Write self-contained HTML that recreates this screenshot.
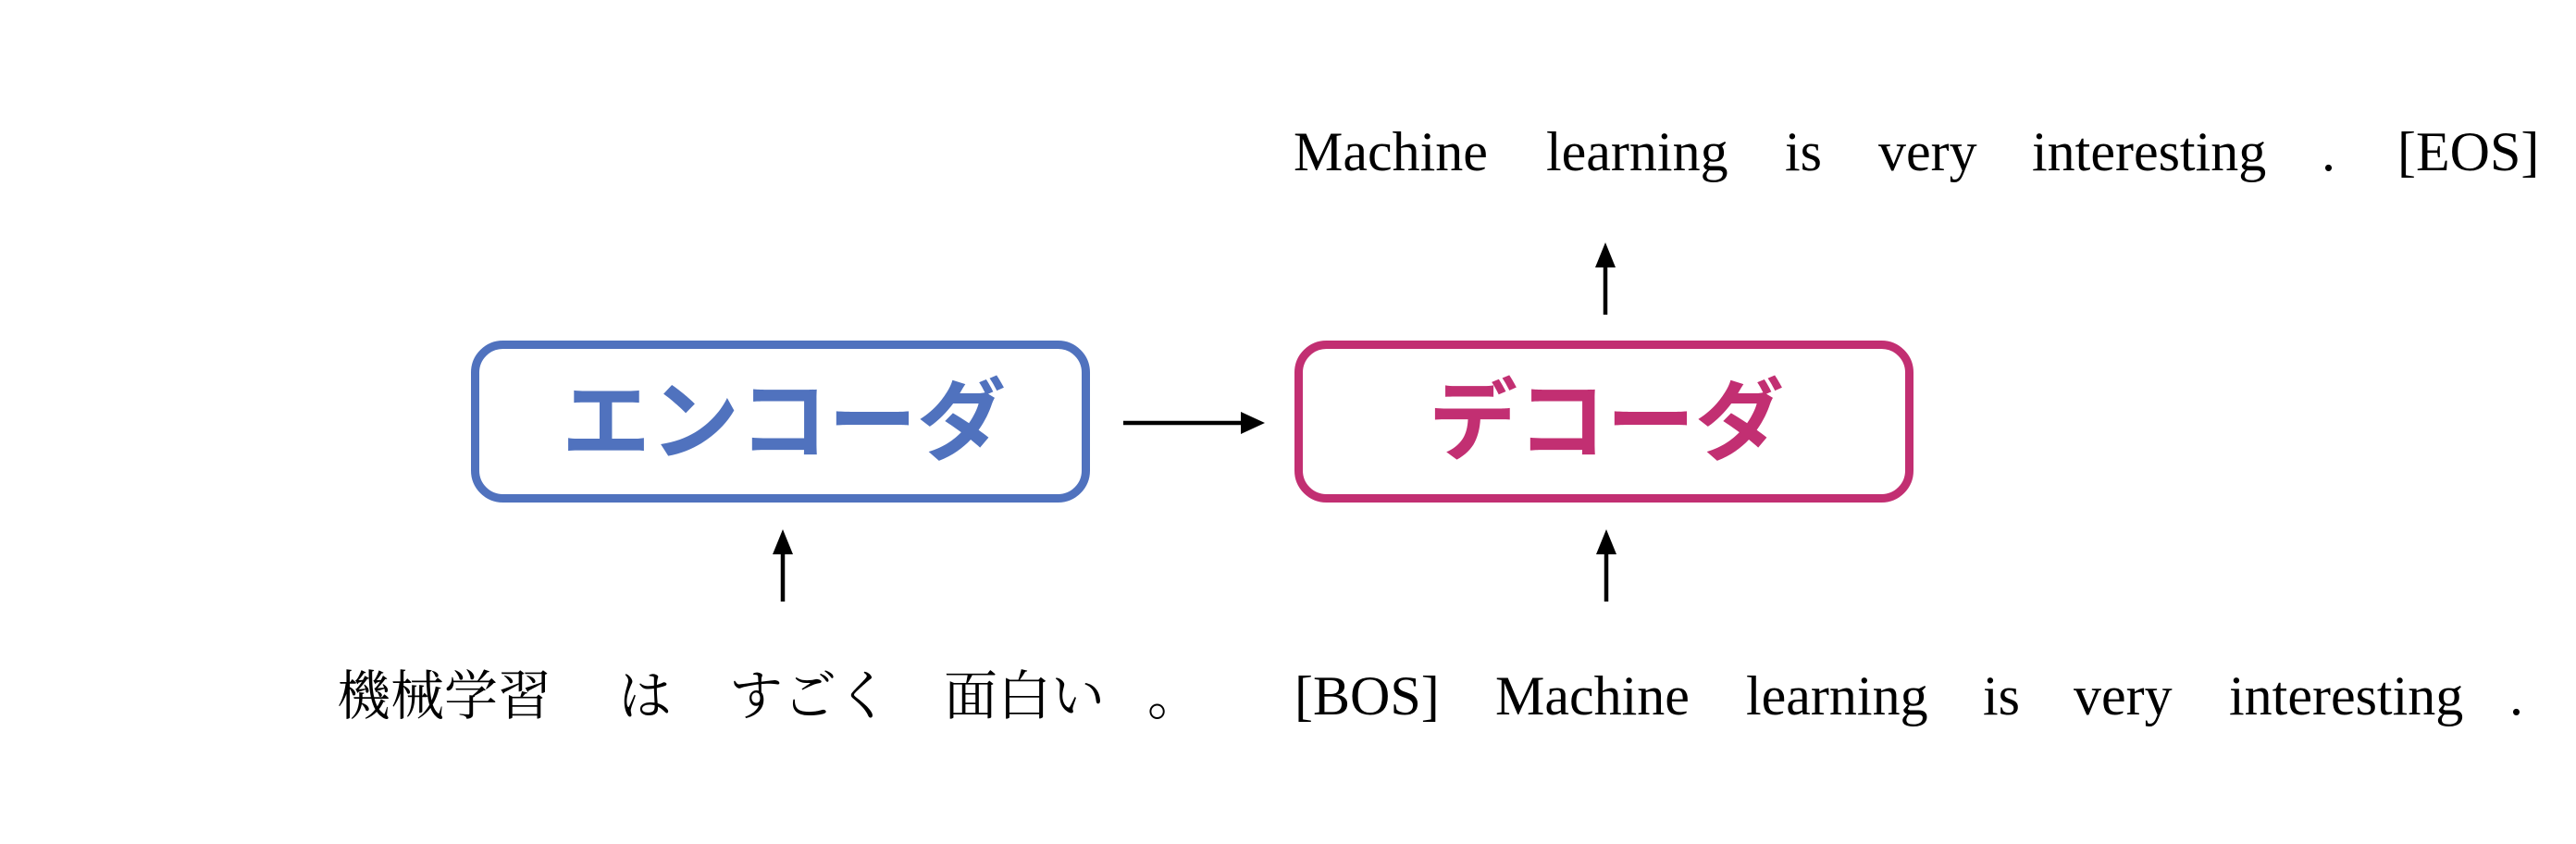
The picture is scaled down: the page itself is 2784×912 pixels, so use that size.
<!DOCTYPE html>
<html><head><meta charset="utf-8"><style>
html,body{margin:0;padding:0;background:#fff;}
svg{display:block;}
.s{font-family:"Liberation Serif","Noto Serif CJK SC",serif;font-size:60px;fill:#000;}
.j{font-family:"Liberation Serif","Noto Serif CJK SC",serif;font-size:58px;fill:#000;}
.k{font-family:"Noto Sans CJK JP",sans-serif;font-weight:bold;font-size:96px;}
</style></head><body>
<svg width="2784" height="912" viewBox="0 0 2784 912" xmlns="http://www.w3.org/2000/svg">
<rect x="513.5" y="372.5" width="660" height="166" rx="30" fill="none" stroke="#5072BE" stroke-width="9"/>
<rect x="1403.5" y="372.5" width="660" height="166" rx="30" fill="none" stroke="#C22F72" stroke-width="9"/>
<text class="k" x="847" y="489" text-anchor="middle" fill="#5072BE">エンコーダ</text>
<text class="k" x="1736" y="489" text-anchor="middle" fill="#C22F72">デコーダ</text>
<line x1="1214" y1="457" x2="1342" y2="457" stroke="#000" stroke-width="4.5"/>
<polygon points="1367,457 1341,445 1341,469" fill="#000"/>
<line x1="846" y1="650" x2="846" y2="595" stroke="#000" stroke-width="4.5"/>
<polygon points="846,572 835,599 857,599" fill="#000"/>
<line x1="1736" y1="650" x2="1736" y2="595" stroke="#000" stroke-width="4.5"/>
<polygon points="1736,572 1725,599 1747,599" fill="#000"/>
<line x1="1735" y1="340" x2="1735" y2="285" stroke="#000" stroke-width="4.5"/>
<polygon points="1735,262 1724,289 1746,289" fill="#000"/>
<text class="s" x="1398" y="184">Machine</text>
<text class="s" x="1671" y="184">learning</text>
<text class="s" x="1929" y="184">is</text>
<text class="s" x="2030" y="184">very</text>
<text class="s" x="2196" y="184">interesting</text>
<text class="s" x="2509" y="184">.</text>
<text class="s" x="2591" y="184">[EOS]</text>
<text class="j" x="364" y="772">機械学習</text>
<text class="j" x="668" y="772">は</text>
<text class="j" x="788" y="772">すごく</text>
<text class="j" x="1020" y="772">面白い</text>
<text class="j" x="1240" y="772">。</text>
<text class="s" x="1399" y="772">[BOS]</text>
<text class="s" x="1616" y="772">Machine</text>
<text class="s" x="1887" y="772">learning</text>
<text class="s" x="2143" y="772">is</text>
<text class="s" x="2241" y="772">very</text>
<text class="s" x="2409" y="772">interesting</text>
<text class="s" x="2712" y="772">.</text>
</svg>
</body></html>
